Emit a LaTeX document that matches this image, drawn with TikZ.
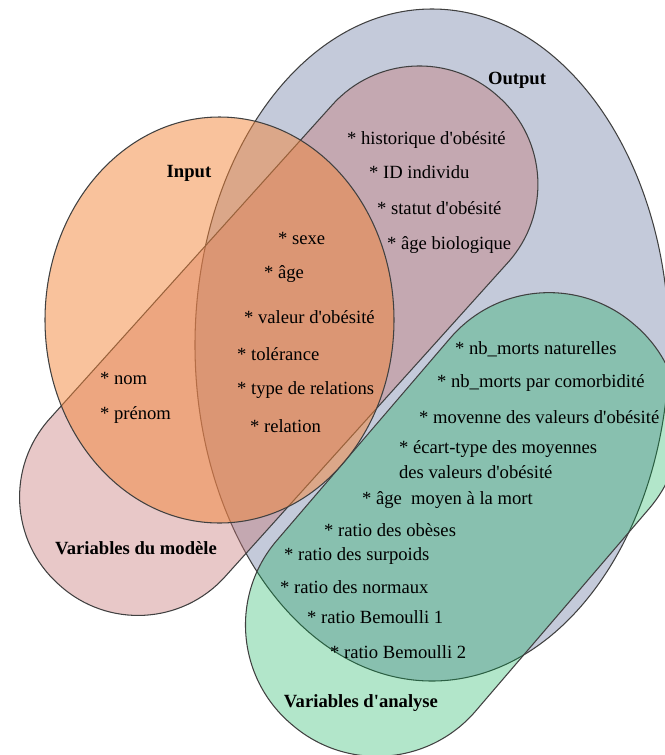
\documentclass[tikz,border=0pt]{standalone}
\usepackage{fontspec}
\setmainfont{Liberation Serif}

\definecolor{outputblue}{RGB}{196,202,218}
\definecolor{modelpink}{RGB}{197,117,117}
\definecolor{analysegreen}{RGB}{0,172,78}
\definecolor{inputorange}{RGB}{243,133,57}

\begin{document}
\begin{tikzpicture}
     [x=0.02cm,y=-0.02cm,line cap=round,
      % Styles
        set/.style={draw=black!75,line width=0.6pt},
        set title/.style={font=\fontsize{10.6}{12}\selectfont\bfseries,inner sep=1pt},
        item/.style={font=\fontsize{10.6}{12}\selectfont,inner sep=1pt,anchor=west}]
    \useasboundingbox (0,0) rectangle (664,755);

    % the four sets
    \draw[set,fill=outputblue] (432,345) ellipse [x radius=237, y radius=336];
    \draw[set,fill=modelpink,fill opacity=0.4,rotate around={48:(278.75,340.7)},rounded corners=2.34cm]
        (-49.6,222.7) rectangle (607.1,458.7);
    \draw[set,fill=analysegreen,fill opacity=0.3,rotate around={49.4:(463,524.5)},rounded corners=2.6cm]
        (199.7,393.5) rectangle (726.3,655.5);
    \draw[set,fill=inputorange,fill opacity=0.5] (219.5,320) ellipse [x radius=174.5, y radius=203];

    % titles
    \node[set title] (output) at (517,80) {Output};
    \node[set title] (input) at (189,173) {Input};
    \node[set title] (model) at (136,548) {Variables du modèle};
    \node[set title] (analyse) at (361,703) {Variables d\textquotesingle analyse};

    % model variables
    \node[item] (hist) at (345,140) {* historique d\textquotesingle obésité};
    \node[item] (id) at (367,172) {* ID individu};
    \node[item] (statut) at (375,208) {* statut d\textquotesingle obésité};
    \node[item] (agebio) at (385,245) {* âge biologique};
    \node[item] (sexe) at (276,238) {* sexe};
    \node[item] (age) at (262,274) {* âge};
    \node[item] (valeur) at (242,317) {* valeur d\textquotesingle obésité};
    \node[item] (tol) at (235,354) {* tolérance};
    \node[item] (type) at (235,390) {* type de relations};
    \node[item] (rel) at (248,426) {* relation};
    \node[item] (nom) at (98,378) {* nom};
    \node[item] (prenom) at (98,415) {* prénom};

    % analysis variables
    \node[item] (nat) at (453,349) {* nb\_morts naturelles};
    \node[item] (como) at (435,383) {* nb\_morts par comorbidité};
    \node[item] (moy) at (417,417) {* movenne des valeurs d\textquotesingle obésité};
    \node[item,align=left,font=\fontsize{10.6}{14.2}\selectfont] (ecart) at (397,459.5)
        {* écart-type des moyennes\\des valeurs d\textquotesingle obésité};
    \node[item] (mort) at (360,500) {* âge\ \ moyen à la mort};
    \node[item] (obes) at (322,530) {* ratio des obèses};
    \node[item] (surp) at (282,556) {* ratio des surpoids};
    \node[item] (norm) at (278,587) {* ratio des normaux};
    \node[item] (bern1) at (305,617) {* ratio Bemoulli 1};
    \node[item] (bern2) at (328,652) {* ratio Bemoulli 2};
\end{tikzpicture}
\end{document}
